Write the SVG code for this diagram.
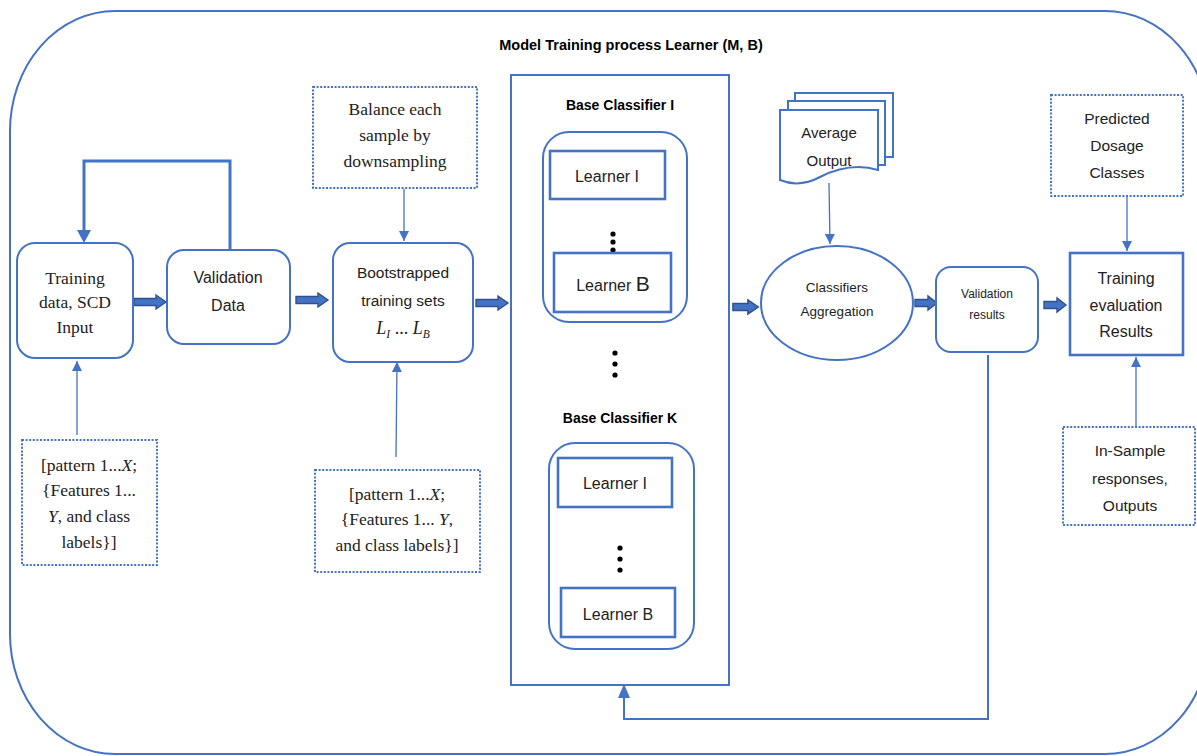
<svg xmlns="http://www.w3.org/2000/svg" width="1197" height="756" viewBox="0 0 1197 756">
  <defs>
    <style>
      .frame { fill: none; stroke: #4472C4; stroke-width: 2; }
      .box { fill: #fff; stroke: #4472C4; stroke-width: 2; }
      .box-thick { fill: #fff; stroke: #4472C4; stroke-width: 2.6; }
      .note { fill: #fff; stroke: #4472C4; stroke-width: 2; stroke-dasharray: 2 1.6; }
      .thin { fill: none; stroke: #4472C4; stroke-width: 1.3; }
      .loop { fill: none; stroke: #4472C4; stroke-width: 3; }
      .block { fill: #4472C4; stroke: #2F528F; stroke-width: 1.4; stroke-linejoin: miter; }
      .sans { font-family: "Liberation Sans", Arial, sans-serif; fill: #222; text-anchor: middle; }
      .serif { font-family: "Liberation Serif", "Times New Roman", serif; fill: #222; text-anchor: middle; }
      .bold { font-weight: bold; fill: #000; }
      .dot { fill: #000; }
    </style>
    <marker id="tri" viewBox="0 0 10 10" refX="10" refY="5" markerWidth="10" markerHeight="10" markerUnits="userSpaceOnUse" orient="auto">
      <path d="M0,0 L10,5 L0,10 Z" fill="#4472C4"/>
    </marker>
    <!-- block arrow, 0..length along x, centred on y=0 -->
    <path id="blk" d="M0,-3.5 H22 V-7 L32,0 L22,7 V3.5 H0 Z"/>
    <path id="blkS" d="M0,-3.5 H13 V-7 L22,0 L13,7 V3.5 H0 Z"/>
  </defs>

  <rect width="1197" height="756" fill="#fff"/>

  <!-- outer process frame -->
  <rect class="frame" x="10" y="11" width="1200" height="743" rx="105" ry="120"/>
  <text class="sans bold" x="631" y="50" font-size="14.5">Model Training process Learner (M, B)</text>

  <!-- connectors -->
  <g id="connectors">
    <!-- feedback loop from validation data back to training data -->
    <polyline class="loop" points="230,250 230,161 84,161 84,232" />
    <path d="M77,230 L91,230 L84,243 Z" fill="#4472C4"/>

    <!-- thin arrows -->
    <line class="thin" x1="77" y1="435" x2="77" y2="361" marker-end="url(#tri)"/>
    <line class="thin" x1="396" y1="457" x2="397" y2="362" marker-end="url(#tri)"/>
    <line class="thin" x1="404" y1="189" x2="404" y2="241" marker-end="url(#tri)"/>
    <line class="thin" x1="829" y1="183" x2="830" y2="244" marker-end="url(#tri)"/>
    <line class="thin" x1="1127" y1="197" x2="1127" y2="251" marker-end="url(#tri)"/>
    <line class="thin" x1="1136" y1="426" x2="1136" y2="357" marker-end="url(#tri)"/>

    <!-- validation results feedback to the base classifiers -->
    <polyline fill="none" stroke="#4472C4" stroke-width="2" points="988,355 988,719 624,719 624,697"/>
    <path d="M618,698 L630,698 L624,684 Z" fill="#4472C4"/>

    <!-- block arrows between stages -->
    <use href="#blk" class="block" transform="translate(134,302)"/>
    <use href="#blk" class="block" transform="translate(296,300)"/>
    <use href="#blk" class="block" transform="translate(476,303)"/>
    <use href="#blkS" class="block" transform="translate(733,307) scale(1.15,1)"/>
    <use href="#blkS" class="block" transform="translate(915,303)"/>
    <use href="#blkS" class="block" transform="translate(1044,305)"/>
  </g>

  <g id="training-data">
    <rect class="box" x="17" y="243" width="116" height="115" rx="18"/>
    <text class="serif" font-size="17.5" x="75" y="284">Training</text>
    <text class="serif" font-size="17.5" x="75" y="308">data, SCD</text>
    <text class="serif" font-size="17.5" x="75" y="333">Input</text>
  </g>

  <g id="validation-data">
    <rect class="box" x="167" y="250" width="123" height="94" rx="17"/>
    <text class="sans" font-size="16" x="228" y="283">Validation</text>
    <text class="sans" font-size="16" x="228" y="311">Data</text>
  </g>

  <g id="patterns-left">
    <rect class="note" x="22" y="440" width="135" height="125"/>
    <text class="serif" font-size="17.5" x="89" y="471">[pattern 1...<tspan font-style="italic">X</tspan>;</text>
    <text class="serif" font-size="17.5" x="89" y="496">{Features 1...</text>
    <text class="serif" font-size="17.5" x="89" y="522"><tspan font-style="italic">Y</tspan>, and class</text>
    <text class="serif" font-size="17.5" x="89" y="548">labels}]</text>
  </g>

  <g id="balance">
    <rect class="note" x="313" y="87" width="164" height="101"/>
    <text class="serif" font-size="17.5" x="395" y="115">Balance each</text>
    <text class="serif" font-size="17.5" x="395" y="141">sample by</text>
    <text class="serif" font-size="17.5" x="395" y="167">downsampling</text>
  </g>

  <g id="bootstrapped">
    <rect class="box" x="333" y="243" width="140" height="119" rx="17"/>
    <text class="sans" font-size="15.5" x="403" y="278">Bootstrapped</text>
    <text class="sans" font-size="15.5" x="403" y="306">training sets</text>
    <text class="serif" font-size="18" x="403" y="334"><tspan font-style="italic">L</tspan><tspan font-size="11.5" font-style="italic" dy="4">I</tspan><tspan dy="-4"> ... </tspan><tspan font-style="italic">L</tspan><tspan font-size="11.5" font-style="italic" dy="4">B</tspan></text>
  </g>

  <g id="patterns-mid">
    <rect class="note" x="315" y="470" width="165" height="102"/>
    <text class="serif" font-size="17.5" x="397" y="500">[pattern 1...<tspan font-style="italic">X</tspan>;</text>
    <text class="serif" font-size="17.5" x="397" y="525">{Features 1... <tspan font-style="italic">Y</tspan>,</text>
    <text class="serif" font-size="17.5" x="397" y="551">and class labels}]</text>
  </g>

  <g id="base-classifiers">
    <rect class="box" x="511" y="75" width="218" height="610"/>
    <text class="sans bold" font-size="14" x="620" y="110">Base Classifier I</text>
    <rect class="box" x="543" y="132" width="144" height="190" rx="26"/>
    <rect class="box-thick" x="550" y="151" width="115" height="48"/>
    <text class="sans" font-size="16" x="607" y="182">Learner I</text>
    <circle class="dot" cx="613" cy="234" r="2.6"/>
    <circle class="dot" cx="613" cy="242" r="2.6"/>
    <circle class="dot" cx="613" cy="250" r="2.6"/>
    <rect class="box-thick" x="554" y="253" width="117" height="59"/>
    <text class="sans" font-size="16" x="613" y="291">Learner <tspan font-size="21">B</tspan></text>

    <circle class="dot" cx="615" cy="353" r="2.6"/>
    <circle class="dot" cx="615" cy="364" r="2.6"/>
    <circle class="dot" cx="615" cy="375" r="2.6"/>

    <text class="sans bold" font-size="14" x="620" y="423">Base Classifier K</text>
    <rect class="box" x="549" y="443" width="145" height="206" rx="26"/>
    <rect class="box-thick" x="558" y="458" width="114" height="49"/>
    <text class="sans" font-size="16" x="615" y="489">Learner I</text>
    <circle class="dot" cx="620" cy="548" r="2.6"/>
    <circle class="dot" cx="620" cy="559" r="2.6"/>
    <circle class="dot" cx="620" cy="570" r="2.6"/>
    <rect class="box-thick" x="561" y="588" width="114" height="49"/>
    <text class="sans" font-size="16" x="618" y="620">Learner B</text>
  </g>

  <g id="average-output">
    <rect class="box" x="795" y="93" width="98" height="64"/>
    <rect class="box" x="788" y="101" width="97" height="64"/>
    <path class="box" d="M780,110 H878 V170 C858,164 838,168 820,177 C805,185 792,185 780,180 Z"/>
    <text class="sans" font-size="15" x="829" y="138">Average</text>
    <text class="sans" font-size="15" x="829" y="166">Output</text>
  </g>

  <g id="aggregation">
    <ellipse class="box" cx="837" cy="303" rx="76" ry="57"/>
    <text class="sans" font-size="13.5" x="837" y="292">Classifiers</text>
    <text class="sans" font-size="13.5" x="837" y="316">Aggregation</text>
  </g>

  <g id="validation-results">
    <rect class="box" x="936" y="267" width="102" height="85" rx="15"/>
    <text class="sans" font-size="12" x="987" y="298">Validation</text>
    <text class="sans" font-size="12" x="987" y="319">results</text>
  </g>

  <g id="predicted">
    <rect class="note" x="1051" y="95" width="132" height="101"/>
    <text class="sans" font-size="15.5" x="1117" y="124">Predicted</text>
    <text class="sans" font-size="15.5" x="1117" y="151">Dosage</text>
    <text class="sans" font-size="15.5" x="1117" y="178">Classes</text>
  </g>

  <g id="evaluation">
    <rect class="box-thick" x="1070" y="253" width="113" height="102"/>
    <text class="sans" font-size="16" x="1126" y="284">Training</text>
    <text class="sans" font-size="16" x="1126" y="311">evaluation</text>
    <text class="sans" font-size="16" x="1126" y="337">Results</text>
  </g>

  <g id="in-sample">
    <rect class="note" x="1063" y="427" width="132" height="98"/>
    <text class="sans" font-size="15.5" x="1130" y="456">In-Sample</text>
    <text class="sans" font-size="15.5" x="1130" y="484">responses,</text>
    <text class="sans" font-size="15.5" x="1130" y="511">Outputs</text>
  </g>
</svg>
